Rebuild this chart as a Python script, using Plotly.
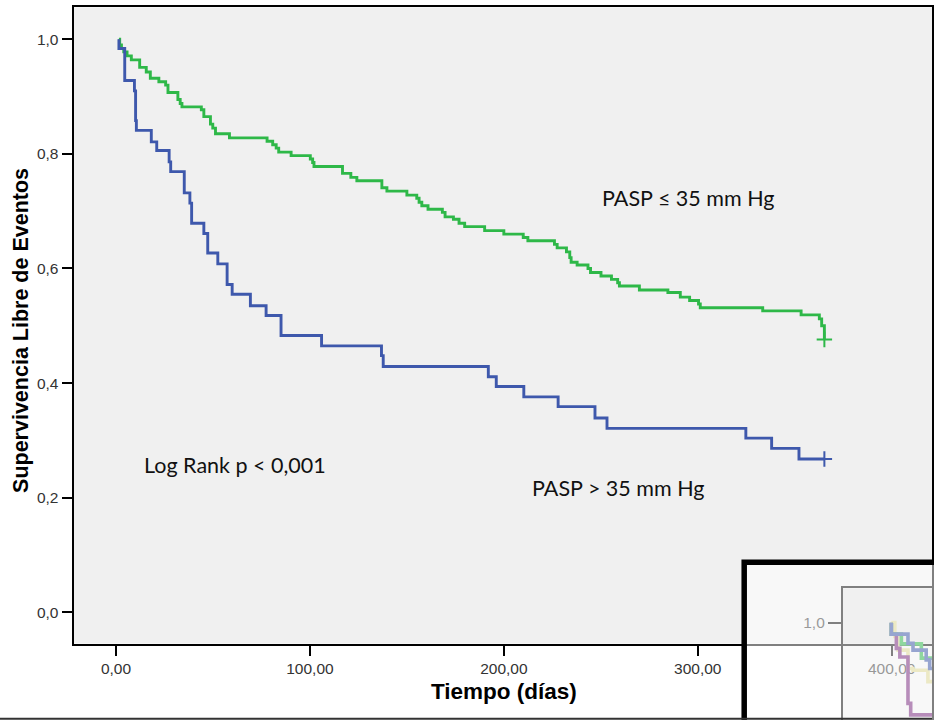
import plotly.graph_objects as go

# ---- Kaplan-Meier estimates (time in days, survival after each event) ----
curve_start = 1.5
follow_up_end = 365.3

low_times = [1.9, 2.8, 4.0, 5.7, 7.9, 12.2, 15.6, 17.7, 22.1, 25.6, 26.8, 31.9,
             33.1, 34.0, 44.0, 45.3, 48.7, 49.9, 51.3, 58.5, 77.9, 80.8, 82.6,
             83.9, 90.3, 100.2, 101.4, 102.1, 116.8, 121.1, 124.2, 137.1, 139.7,
             150.0, 155.1, 156.3, 157.7, 160.9, 168.3, 169.7, 174.0, 176.9, 179.8,
             190.1, 200.0, 210.0, 212.4, 226.1, 227.5, 232.3, 234.0, 234.7, 237.8,
             243.4, 244.7, 250.1, 255.5, 258.7, 259.6, 269.9, 284.6, 291.0, 295.8,
             300.4, 301.3, 333.5, 353.3, 362.7, 363.9, 365.3]
low_surv = [0.990, 0.984, 0.978, 0.971, 0.964, 0.951, 0.943, 0.932, 0.926, 0.920,
            0.907, 0.895, 0.888, 0.882, 0.877, 0.865, 0.852, 0.845, 0.835, 0.828,
            0.822, 0.816, 0.810, 0.803, 0.797, 0.791, 0.785, 0.778, 0.766, 0.759,
            0.753, 0.741, 0.735, 0.728, 0.7225, 0.7155, 0.7096, 0.7033, 0.698,
            0.690, 0.686, 0.679, 0.673, 0.666, 0.660, 0.654, 0.6485, 0.642, 0.636,
            0.629, 0.619, 0.611, 0.606, 0.600, 0.593, 0.587, 0.581, 0.575, 0.5695,
            0.5625, 0.558, 0.550, 0.544, 0.538, 0.5316, 0.526, 0.519, 0.512, 0.500,
            0.476]

high_times = [1.5, 4.5, 9.5, 10.1, 10.5, 18.2, 21.0, 27.4, 28.2, 35.2, 38.1, 39.0,
              45.3, 47.3, 52.5, 57.3, 59.9, 69.3, 77.4, 85.1, 106.0, 136.9, 137.8,
              192.0, 196.1, 210.3, 228.0, 247.0, 253.2, 324.8, 338.1, 352.2]
high_surv = [0.984, 0.928, 0.910, 0.858, 0.841, 0.821, 0.806, 0.786, 0.769, 0.732,
             0.714, 0.679, 0.661, 0.627, 0.608, 0.572, 0.555, 0.535, 0.518, 0.483,
             0.465, 0.448, 0.429, 0.411, 0.394, 0.376, 0.359, 0.339, 0.321, 0.304,
             0.286, 0.2675]

x_tick_vals = [0, 100, 200, 300, 400]
x_tick_text = ["0,00", "100,00", "200,00", "300,00", "400,00"]
y_tick_vals = [0.0, 0.2, 0.4, 0.6, 0.8, 1.0]
y_tick_text = ["0,0", "0,2", "0,4", "0,6", "0,8", "1,0"]

# ---- small overlaid panel: four groups, first weeks only ----
panel_start = 2.9
panel_green_t = [2.9, 8.1, 18.4]
panel_green_s = [0.980, 0.963, 0.938]
panel_blue_t = [2.9, 11.5, 14.1, 20.9, 22.7]
panel_blue_s = [0.980, 0.964, 0.952, 0.935, 0.920]
panel_purple_t = [2.9, 5.5, 7.3, 11.5, 12.9]
panel_purple_s = [0.980, 0.955, 0.940, 0.859, 0.839]
panel_beige_t = [4.7, 6.4, 11.5, 14.1, 21.8]
panel_beige_s = [0.976, 0.952, 0.920, 0.917, 0.897]
panel_end = 30.0
panel_tick_vals = [1.0]
panel_tick_text = ["1,0"]

W, H = 934, 720


def px(x):
    return x / W


def py(y):
    return 1 - y / H


def km_path(start, times, surv, end):
    xs = [start] + list(times) + [end]
    ys = [1.0] + list(surv) + [surv[-1]]
    return xs, ys


GREEN = "#2eb848"
BLUE = "#3e58ac"
TICK_FONT = dict(family="Liberation Sans, Arial", size=15.5, color="#333333")

fig = go.Figure()

for times, surv, color in [(low_times, low_surv, GREEN), (high_times, high_surv, BLUE)]:
    xs, ys = km_path(curve_start, times, surv, follow_up_end)
    fig.add_trace(go.Scatter(x=xs, y=ys, mode="lines", line=dict(color=color, width=2.9, shape="hv"),
                             showlegend=False, hoverinfo="skip"))
    fig.add_trace(go.Scatter(x=[follow_up_end], y=[surv[-1]], mode="markers",
                             marker=dict(symbol="cross-thin", size=11, line=dict(color=color, width=2)),
                             showlegend=False, hoverinfo="skip"))

for times, surv, color in [(panel_beige_t, panel_beige_s, "#d8d28a"),
                           (panel_purple_t, panel_purple_s, "#6e1a75"),
                           (panel_green_t, panel_green_s, "#1fae3c"),
                           (panel_blue_t, panel_blue_s, "#2f4aa0")]:
    xs, ys = km_path(panel_start, times, surv, panel_end)
    fig.add_trace(go.Scatter(x=xs, y=ys, mode="lines", xaxis="x2", yaxis="y2",
                             line=dict(color=color, width=3.6, shape="hv"),
                             showlegend=False, hoverinfo="skip"))

fig.update_layout(
    width=W, height=H,
    margin=dict(l=0, r=0, t=0, b=0),
    paper_bgcolor="white",
    plot_bgcolor="rgba(0,0,0,0.0588)",
    showlegend=False,
    xaxis=dict(domain=[px(73.7), 1.0], range=[-21.9, 420.8],
               tickvals=x_tick_vals, ticktext=x_tick_text, tickfont=TICK_FONT,
               ticks="outside", ticklen=10, tickwidth=2, tickcolor="black",
               showline=True, linecolor="black", linewidth=2, mirror=True,
               showgrid=False, zeroline=False),
    yaxis=dict(domain=[py(643.7), py(7.3)], range=[-0.0548, 1.0558],
               tickvals=y_tick_vals, ticktext=y_tick_text, tickfont=TICK_FONT,
               ticks="outside", ticklen=10, tickwidth=2, tickcolor="black",
               showline=True, linecolor="black", linewidth=2, mirror=True,
               showgrid=False, zeroline=False),
    xaxis2=dict(domain=[px(844.7), 1.0], range=[-22.1, 23.9], anchor="y2",
                showline=True, linecolor="black", linewidth=2, mirror=True,
                showticklabels=False, ticks="", showgrid=False, zeroline=False),
    yaxis2=dict(domain=[0.0, py(588.3)], range=[0.830, 1.060], anchor="x2",
                tickvals=panel_tick_vals, ticktext=panel_tick_text, tickfont=TICK_FONT,
                ticks="outside", ticklen=13, tickwidth=2, tickcolor="black",
                showline=True, linecolor="black", linewidth=2, mirror=True,
                showgrid=False, zeroline=False),
)

LABEL_FONT = dict(family="Lato, Calibri, sans-serif", size=21.5, color="#111111")
fig.add_annotation(x=249.5, y=0.723, xref="x", yref="y", text="PASP ≤ 35 mm Hg",
                   showarrow=False, xanchor="left", yanchor="middle", font=LABEL_FONT)
fig.add_annotation(x=213.7, y=0.217, xref="x", yref="y", text="PASP > 35 mm Hg",
                   showarrow=False, xanchor="left", yanchor="middle", font=LABEL_FONT)
fig.add_annotation(x=13.2, y=0.257, xref="x", yref="y", text="Log Rank p < 0,001",
                   showarrow=False, xanchor="left", yanchor="middle", font=LABEL_FONT)

fig.add_annotation(x=px(505), y=py(691), xref="paper", yref="paper",
                   text="<b>Tiempo (días)</b>", showarrow=False,
                   xanchor="center", yanchor="middle",
                   font=dict(family="Liberation Sans, Arial", size=22.5, color="black"))
fig.add_annotation(x=px(21), y=py(330), xref="paper", yref="paper",
                   text="<b>Supervivencia Libre de Eventos</b>", showarrow=False, textangle=-90,
                   xanchor="center", yanchor="middle",
                   font=dict(family="Liberation Sans, Arial", size=21.5, color="black"))

# translucent frame laid over the lower-right corner
fig.add_shape(type="rect", xref="paper", yref="paper",
              x0=px(745.8), x1=1.1, y0=-0.1, y1=py(562.2),
              fillcolor="rgba(255,255,255,0.5)", line=dict(color="black", width=5.5),
              layer="above")
# bottom border of the page
fig.add_shape(type="line", xref="paper", yref="paper",
              x0=0, x1=1, y0=py(718.7), y1=py(718.7),
              line=dict(color="#333333", width=2), layer="above")

fig.write_html("out.html")
